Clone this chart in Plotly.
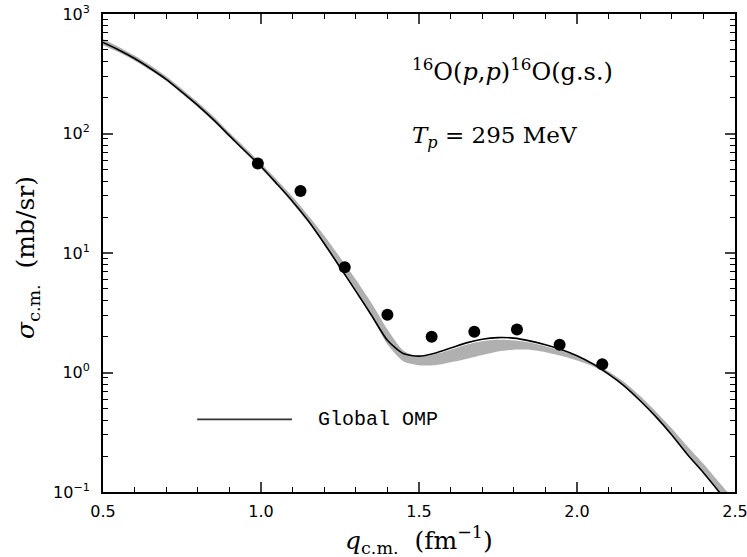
import plotly.graph_objects as go

# Measured 16O(p,p) cross sections
q_data = [0.99, 1.125, 1.265, 1.40, 1.54, 1.675, 1.81, 1.945, 2.08]
sigma_data = [56.1, 33.0, 7.6, 3.04, 1.99, 2.19, 2.29, 1.71, 1.17]

# Global OMP curve and gray uncertainty band
q_model = [0.50, 0.55, 0.60, 0.65, 0.70, 0.75, 0.80, 0.85, 0.90, 0.95,
           1.00, 1.05, 1.10, 1.15, 1.20, 1.25, 1.30, 1.35, 1.40, 1.45,
           1.50, 1.55, 1.60, 1.65, 1.70, 1.75, 1.80, 1.85, 1.90, 1.95,
           2.00, 2.05, 2.10, 2.15, 2.20, 2.25, 2.30, 2.35, 2.40, 2.45, 2.50]
sigma_omp = [578, 500, 424, 350, 284, 222, 172, 130, 96, 71,
             53, 38, 27, 18.5, 12.0, 7.6, 4.8, 3.0, 1.86, 1.44,
             1.37, 1.45, 1.60, 1.77, 1.90, 1.96, 1.94, 1.84, 1.71, 1.56,
             1.38, 1.18, 0.97, 0.77, 0.58, 0.425, 0.30, 0.205, 0.145, 0.100, 0.068]
band_low = [548, 478, 407, 338, 275, 215, 166, 126, 93, 69,
            51, 37, 26, 18, 11.8, 7.5, 4.75, 2.95, 1.72, 1.24,
            1.15, 1.15, 1.22, 1.30, 1.40, 1.50, 1.55, 1.55, 1.48, 1.38,
            1.26, 1.13, 0.95, 0.76, 0.575, 0.42, 0.298, 0.205, 0.145, 0.100, 0.068]
band_high = [618, 530, 449, 372, 301, 236, 183, 139, 102, 76,
             56, 41, 29.5, 20.5, 14.0, 9.2, 6.0, 3.8, 2.30, 1.53,
             1.36, 1.42, 1.55, 1.71, 1.83, 1.88, 1.86, 1.78, 1.66, 1.53,
             1.37, 1.21, 1.02, 0.83, 0.635, 0.47, 0.34, 0.24, 0.172, 0.120, 0.085]

x_ticks = [0.5, 1.0, 1.5, 2.0, 2.5]
x_ticktext = ['0.5', '1.0', '1.5', '2.0', '2.5']
y_ticks = [0.1, 1, 10, 100, 1000]
y_ticktext = ['10<sup>−1</sup>', '10<sup>0</sup>', '10<sup>1</sup>', '10<sup>2</sup>', '10<sup>3</sup>']

x_minor = [0.5 + 0.1 * i for i in range(21)]
y_minor = [m * 10.0 ** e for e in range(-1, 3) for m in range(1, 10)] + [1000]

fig = go.Figure()

fig.add_trace(go.Scatter(x=q_model, y=band_low, mode='lines',
                         line=dict(width=0, color='#b0b0b0', shape='spline', smoothing=0.7),
                         showlegend=False, hoverinfo='skip'))
fig.add_trace(go.Scatter(x=q_model, y=band_high, mode='lines',
                         line=dict(width=0, color='#b0b0b0', shape='spline', smoothing=0.7),
                         fill='tonexty', fillcolor='#b0b0b0',
                         showlegend=False, hoverinfo='skip'))
fig.add_trace(go.Scatter(x=q_model, y=sigma_omp, mode='lines',
                         line=dict(color='black', width=1.6, shape='spline', smoothing=0.7),
                         name='Global OMP', showlegend=False))
fig.add_trace(go.Scatter(x=q_data, y=sigma_data, mode='markers',
                         marker=dict(color='black', size=12),
                         showlegend=False))

tick_font = dict(family='DejaVu Sans', size=16, color='black')

fig.update_xaxes(range=[0.5, 2.5], tickmode='array', tickvals=x_ticks,
                 ticktext=x_ticktext, ticks='inside', ticklen=10, tickwidth=1.5,
                 showline=True, linecolor='black', linewidth=1.8, mirror='ticks',
                 showgrid=False, zeroline=False, tickfont=tick_font,
                 ticklabelstandoff=4, automargin=False, ticklabeloverflow='allow',
                 minor=dict(tickmode='array', tickvals=x_minor, ticks='inside',
                            ticklen=5, tickwidth=1.2, tickcolor='black', showgrid=False))
fig.update_yaxes(type='log', range=[-1, 3], tickmode='array', tickvals=y_ticks,
                 ticktext=y_ticktext, ticks='inside', ticklen=10, tickwidth=1.5,
                 showline=True, linecolor='black', linewidth=1.8, mirror='ticks',
                 showgrid=False, zeroline=False, tickfont=tick_font,
                 ticklabelstandoff=8, automargin=False, ticklabeloverflow='allow',
                 minor=dict(tickmode='array', tickvals=y_minor, ticks='inside',
                            ticklen=5, tickwidth=1.2, tickcolor='black', showgrid=False))

serif = 'DejaVu Serif'
fig.update_layout(
    width=747, height=557,
    margin=dict(l=103, r=12, t=14, b=65),
    plot_bgcolor='white', paper_bgcolor='white',
    showlegend=False,
    annotations=[
        dict(text='<sup>16</sup>O(<i>p</i>,<i>p</i>)<sup>16</sup>O(g.s.)',
             xref='paper', yref='paper', x=0.486, y=0.882,
             xanchor='left', yanchor='middle', showarrow=False,
             font=dict(family=serif, size=24, color='black')),
        dict(text='<i>T<sub>p</sub></i> = 295 MeV',
             xref='paper', yref='paper', x=0.486, y=0.742,
             xanchor='left', yanchor='middle', showarrow=False,
             font=dict(family=serif, size=23, color='black')),
        dict(text='Global OMP', xref='paper', yref='paper', x=0.337, y=0.152,
             xanchor='left', yanchor='middle', showarrow=False,
             font=dict(family='Liberation Mono', size=20, color='black')),
        dict(text='<i>q</i><sub>c.m.</sub>  (fm<sup>−1</sup>)',
             xref='paper', yref='paper', x=0.5, y=-0.10,
             xanchor='center', yanchor='middle', showarrow=False,
             font=dict(family=serif, size=25, color='black')),
        dict(text='<i>σ</i><sub>c.m.</sub>  (mb/sr)',
             xref='paper', yref='paper', x=-0.12, y=0.49,
             xanchor='center', yanchor='middle', showarrow=False, textangle=-90,
             font=dict(family=serif, size=25, color='black')),
    ],
    shapes=[
        dict(type='line', xref='paper', yref='paper', x0=0.149, x1=0.299,
             y0=0.152, y1=0.152, line=dict(color='#333333', width=1.8)),
    ],
)

fig.write_html('out.html', config={'displayModeBar': False},
               post_script="document.body.style.margin='0';")
